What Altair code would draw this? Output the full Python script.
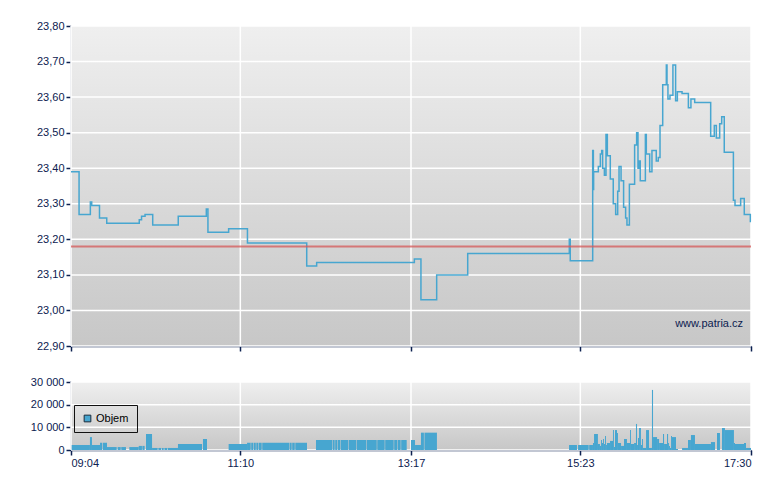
import altair as alt
import pandas as pd

# ---- data ----
tick_mins = [0, 126, 253, 379, 506]
tick_labels = ["09:04", "11:10", "13:17", "15:23", "17:30"]

price_t = [0.0, 6.0, 14.4, 15.4, 21.2, 26.6, 50.8, 52.5, 55.1, 60.8, 79.8, 100.7, 101.9,
           117.3, 131.3, 175.4, 182.8, 255.5, 260.4, 272.1, 295.2, 370.8, 371.5,
           388.2, 388.7, 388.9, 392.4, 393.9, 394.9, 395.6, 396.9, 398.1, 399.1, 401.3,
           403.5, 405.3, 406.8, 407.8, 409.3, 411.2, 412.7, 413.7, 415.5, 419.4, 420.9,
           421.9, 422.9, 423.6, 427.4, 428.1, 430.6, 432.3, 435.5, 437.0, 438.3, 440.3,
           443.0, 443.5, 444.2, 445.7, 447.9, 449.9, 451.2, 454.7, 459.4, 461.3, 464.1,
           476.0, 478.7, 480.2, 482.7, 484.2, 486.1, 492.9, 494.1, 498.3, 501.0, 505.5, 506.0]
price_v = [23.39, 23.27, 23.305, 23.295, 23.26, 23.245, 23.255, 23.265, 23.27, 23.24, 23.265, 23.285, 23.22,
           23.23, 23.19, 23.125, 23.135, 23.145, 23.03, 23.10, 23.16, 23.20, 23.14,
           23.45, 23.34, 23.39, 23.405, 23.44, 23.45, 23.40, 23.38, 23.495, 23.435, 23.37,
           23.30, 23.27, 23.335, 23.405, 23.365, 23.29, 23.26, 23.24, 23.355, 23.465, 23.50,
           23.40, 23.42, 23.365, 23.495, 23.44, 23.39, 23.45, 23.42, 23.43, 23.52, 23.635,
           23.69, 23.635, 23.595, 23.605, 23.69, 23.59, 23.615, 23.61, 23.57, 23.595, 23.585,
           23.49, 23.52, 23.485, 23.525, 23.545, 23.445, 23.31, 23.295, 23.315, 23.27, 23.25, 23.25]
ref_price = 23.18

price_ticks = [22.9, 23.0, 23.1, 23.2, 23.3, 23.4, 23.5, 23.6, 23.7, 23.8]
vol_ticks = [0, 10000, 20000, 30000]

vol_start = [0.5, 14.1, 15.6, 21.6, 23.8, 26.8, 34.7, 37.4, 43.4, 50.4, 53.1, 55.8, 60.3, 65.0, 67.5,
             69.5, 71.9, 79.6, 98.2, 117.3,
             131.0, 134.1, 135.9, 137.9, 139.6, 142.3, 162.6, 164.6, 166.9,
             182.3, 194.9, 196.6, 198.6, 200.6, 206.8, 212.8, 220.2, 227.9, 233.8, 240.5, 243.3, 245.7,
             253.0, 256.0, 260.4, 263.0,
             370.6, 377.3, 385.6, 388.4, 389.2, 392.1, 393.6, 394.4, 395.1, 395.9, 396.6, 397.4,
             398.1, 398.8, 401.1, 403.3, 404.0, 404.8, 406.3, 407.0, 409.3, 411.5, 413.7, 416.0,
             416.7, 419.0, 420.4, 421.2, 421.9, 422.7, 424.1, 424.9, 425.6, 427.9, 430.1, 432.3,
             433.1, 436.1, 437.6, 440.5, 441.3, 443.5, 444.3, 445.0, 445.7, 446.5, 447.2, 450.2,
             454.7, 459.1, 461.3, 464.3, 476.2, 480.7, 484.4, 486.6, 493.3, 494.1, 500.8, 502.3]
vol_end = [14.1, 15.6, 21.6, 23.3, 26.8, 34.0, 37.0, 40.9, 50.4, 52.8, 54.8, 60.3, 64.5, 67.0, 69.0,
           71.5, 79.6, 97.5, 101.2, 131.0,
           133.7, 135.5, 137.5, 139.2, 141.9, 162.2, 164.2, 166.5, 175.6,
           194.5, 196.2, 198.2, 200.2, 206.4, 212.4, 219.8, 227.5, 233.4, 240.1, 242.9, 245.3, 249.8,
           256.0, 260.4, 262.6, 272.3,
           376.5, 385.2, 388.4, 389.2, 392.1, 393.6, 394.4, 395.1, 395.9, 396.6, 397.4, 398.1,
           398.8, 401.1, 403.3, 404.0, 404.8, 406.3, 407.0, 409.3, 411.5, 413.7, 416.0, 416.7,
           419.0, 420.4, 421.2, 421.9, 422.7, 424.1, 424.9, 425.6, 427.9, 430.1, 432.3, 433.1,
           436.1, 437.6, 440.5, 441.3, 443.5, 444.3, 445.0, 445.7, 446.5, 447.2, 450.2, 451.7,
           459.1, 461.3, 464.3, 476.2, 479.2, 482.9, 486.6, 493.3, 494.1, 500.8, 502.3, 506.0]
vol_val = [2200, 5700, 2200, 3200, 3200, 1300, 1300, 1300, 1300, 1800, 1800, 7050, 900, 900, 900,
           900, 900, 2650, 4850, 2650,
           3200, 3200, 3200, 3200, 3200, 3200, 3200, 3200, 3200,
           4400, 4400, 4400, 4400, 4400, 4400, 4400, 4400, 4400, 4400, 4400, 4400, 4400,
           4400, 2200, 7650, 7650,
           2200, 2200, 2200, 3100, 7050, 2650, 1800, 4400, 3100, 4850, 2650, 6200,
           2200, 3100, 4000, 8800, 1300, 8800, 7500, 3100, 1800, 4850, 3100, 8800,
           2650, 3100, 11500, 2200, 5300, 9700, 2200, 4850, 900, 8800, 900, 26500,
           5700, 4850, 3100, 7050, 2650, 7050, 3100, 1800, 900, 6200, 5700, 440,
           900, 4400, 6600, 2650, 3500, 7500, 9700, 8800, 3100, 2650, 3100, 900]

series_name = "Objem"
watermark = "www.patria.cz"

# ---- styles ----
NAVY = "#0c2150"
BLUE = "#47a6d0"
FONT = "Liberation Sans"
GRID = "#ffffff"

price_df = pd.DataFrame({"t": price_t, "p": price_v})
vol_df = pd.DataFrame({"t0": vol_start, "t1": vol_end, "v": vol_val, "s": [series_name] * len(vol_val)})
xgrid_df = pd.DataFrame({"t": tick_mins})
pgrid_df = pd.DataFrame({"p": price_ticks})
vgrid_df = pd.DataFrame({"v": vol_ticks})
bg_df = pd.DataFrame({"k": [0]})

x_label_expr = " : ".join(
    f"datum.value == {m} ? '{l}'" for m, l in zip(tick_mins, tick_labels)
) + " : ''"

x_scale = alt.Scale(domain=[tick_mins[0], tick_mins[-1]], nice=False, zero=False)
p_scale = alt.Scale(domain=[price_ticks[0], price_ticks[-1]], nice=False, zero=False)
v_scale = alt.Scale(domain=[vol_ticks[0], vol_ticks[-1]], nice=False)

upper_x_axis = alt.Axis(values=tick_mins, labels=False, title=None, grid=False)
lower_x_axis = alt.Axis(values=tick_mins, labelExpr=x_label_expr, title=None, grid=False)
price_axis = alt.Axis(values=price_ticks, labelExpr="replace(format(datum.value, '.2f'), '.', ',')",
                      title=None, grid=False)
vol_axis = alt.Axis(values=vol_ticks, labelExpr="replace(format(datum.value, ','), ',', ' ')",
                    title=None, grid=False)

gradient = alt.LinearGradient(
    gradient="linear",
    stops=[alt.GradientStop(color="#efefef", offset=0), alt.GradientStop(color="#c7c7c7", offset=1)],
    x1=0, x2=0, y1=0, y2=1,
)

bg = alt.Chart(bg_df).mark_rect(color=gradient).encode(
    x=alt.value(0), x2=alt.value("width"), y=alt.value(0), y2=alt.value("height")
)

# ---- upper panel ----
u_xgrid = alt.Chart(xgrid_df).mark_rule(color=GRID, strokeWidth=1.5).encode(
    x=alt.X("t:Q", scale=x_scale, axis=upper_x_axis)
)
u_ygrid = alt.Chart(pgrid_df).mark_rule(color=GRID, strokeWidth=1.5).encode(
    y=alt.Y("p:Q", scale=p_scale, axis=price_axis)
)
line = alt.Chart(price_df).mark_line(interpolate="step-after", color=BLUE, strokeWidth=1.5).encode(
    x=alt.X("t:Q", scale=x_scale, axis=upper_x_axis),
    y=alt.Y("p:Q", scale=p_scale, axis=price_axis),
)
ref = alt.Chart(pd.DataFrame({"p": [ref_price]})).mark_rule(
    color="#d65858", opacity=0.75, strokeWidth=2
).encode(
    y=alt.Y("p:Q", scale=p_scale, axis=price_axis)
)
wm = alt.Chart(pd.DataFrame({"w": [watermark]})).mark_text(
    align="right", baseline="middle", font=FONT, fontSize=11, color=NAVY, dx=-8, dy=-22
).encode(
    x=alt.value("width"), y=alt.value("height"), text="w:N"
)

upper = alt.layer(bg, u_xgrid, u_ygrid, line, ref, wm).properties(width=680, height=320)

# ---- lower panel ----
l_xgrid = alt.Chart(xgrid_df).mark_rule(color=GRID, strokeWidth=1.5).encode(
    x=alt.X("t:Q", scale=x_scale, axis=lower_x_axis)
)
l_ygrid = alt.Chart(vgrid_df).mark_rule(color=GRID, strokeWidth=1.5).encode(
    y=alt.Y("v:Q", scale=v_scale, axis=vol_axis)
)
bars = alt.Chart(vol_df).mark_rect().encode(
    x=alt.X("t0:Q", scale=x_scale, axis=lower_x_axis),
    x2="t1:Q",
    y=alt.Y("v:Q", scale=v_scale, axis=vol_axis),
    y2=alt.datum(0),
    color=alt.Color(
        "s:N",
        scale=alt.Scale(range=[BLUE]),
        legend=alt.Legend(
            orient="none", legendX=3, legendY=379, title=None, strokeColor="#111111", padding=8,
            symbolType="square", symbolSize=45, symbolStrokeColor="#1a2a3a", symbolStrokeWidth=1,
            symbolOpacity=1, labelOffset=3, labelFont=FONT, labelFontSize=11, labelColor="#000000",
        ),
    ),
)

lower = alt.layer(bg, l_xgrid, l_ygrid, bars).properties(width=680, height=68)

chart = alt.vconcat(upper, lower, spacing=22).properties(
    padding={"left": 21, "top": 11, "right": 10, "bottom": 5}
).configure_view(
    stroke="transparent"
).configure_axis(
    domainColor=NAVY, tickColor=NAVY, labelColor=NAVY, labelFont=FONT, labelFontSize=11,
    tickSize=5, domainWidth=1.5, tickWidth=1.5, labelPadding=2,
)

chart.save("out.html", embed_options={"renderer": "svg", "actions": False})
